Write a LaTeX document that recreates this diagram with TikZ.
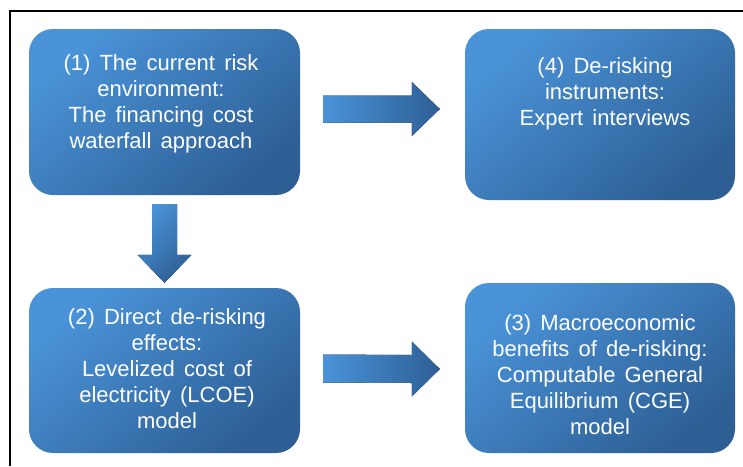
\documentclass[tikz,border=0pt]{standalone}
\usepackage{fontspec}
\setmainfont{Liberation Sans}[WordSpace=1.5]
\usetikzlibrary{calc}
\definecolor{blueLight}{HTML}{4A93D8}
\definecolor{blueDark}{HTML}{2D5F95}
\begin{document}
\begin{tikzpicture}[x=1pt,y=-1pt,
  stagebox/.style={draw=none, rounded corners=24pt, shade,
    top color=blueLight, bottom color=blueDark, shading angle=40, inner sep=0pt},
  blockarrow/.style={draw=none, shade, left color=blueLight, right color=blueDark},
  downarrow/.style={draw=none, shade, top color=blueLight, bottom color=blueDark, shading angle=45},
  stagetext/.style={text=white, align=center, font=\fontsize{22}{26}\selectfont, inner sep=0pt}]
\useasboundingbox (0,0) rectangle (743,466);
\fill[white] (0,0) rectangle (743,466);
% frame
\draw[line width=1.6pt] (10,466) -- (10,11) -- (743,11);

% stage boxes
\node[stagebox, minimum width=271pt, minimum height=166pt] (b1) at (164.5,112) {};
\node[stagebox, minimum width=270pt, minimum height=171pt] (b4) at (600,114.5) {};
\node[stagebox, minimum width=271pt, minimum height=165pt] (b2) at (164.5,370.5) {};
\node[stagebox, minimum width=270pt, minimum height=170pt] (b3) at (600,368) {};

% stage labels
\node[stagetext] (t1) at (161,103.5) {(1) The current risk\\environment:\\The financing cost\\waterfall approach};
\node[stagetext] (t4) at (605,93.5) {(4) De-risking\\instruments:\\Expert interviews};
\node[stagetext] (t2) at (167,369) {(2) Direct de-risking\\effects:\\Levelized cost of\\electricity (LCOE)\\model};
\node[stagetext] (t3) at (600,375) {(3) Macroeconomic\\benefits of de-risking:\\Computable General\\Equilibrium (CGE)\\model};

% block arrows between stages
\coordinate (a1s) at ($(b1.east)+(23,-3)$);
\coordinate (a1e) at ($(b4.west)+(-25,-5.5)$);
\fill[blockarrow] ($(a1s)+(0,-13.5)$) -- ($(a1e)+(-28,-13.5)$) -- ($(a1e)+(-28,-27)$)
  -- (a1e) -- ($(a1e)+(-28,27)$) -- ($(a1e)+(-28,13.5)$) -- ($(a1s)+(0,13.5)$) -- cycle;

\coordinate (a2s) at ($(b2.east)+(23,-2)$);
\coordinate (a2e) at ($(b3.west)+(-25,1)$);
\fill[blockarrow] ($(a2s)+(0,-14)$) -- ($(a2e)+(-28,-14)$) -- ($(a2e)+(-28,-27.5)$)
  -- (a2e) -- ($(a2e)+(-28,27.5)$) -- ($(a2e)+(-28,14)$) -- ($(a2s)+(0,14)$) -- cycle;

\coordinate (a3s) at ($(b1.south)+(0,9)$);
\coordinate (a3e) at ($(b2.north)+(0,-5)$);
\fill[downarrow] ($(a3s)+(-12.5,0)$) -- ($(a3e)+(-12.5,-28)$) -- ($(a3e)+(-27,-28)$)
  -- (a3e) -- ($(a3e)+(27,-28)$) -- ($(a3e)+(12.5,-28)$) -- ($(a3s)+(12.5,0)$) -- cycle;
\end{tikzpicture}
\end{document}
